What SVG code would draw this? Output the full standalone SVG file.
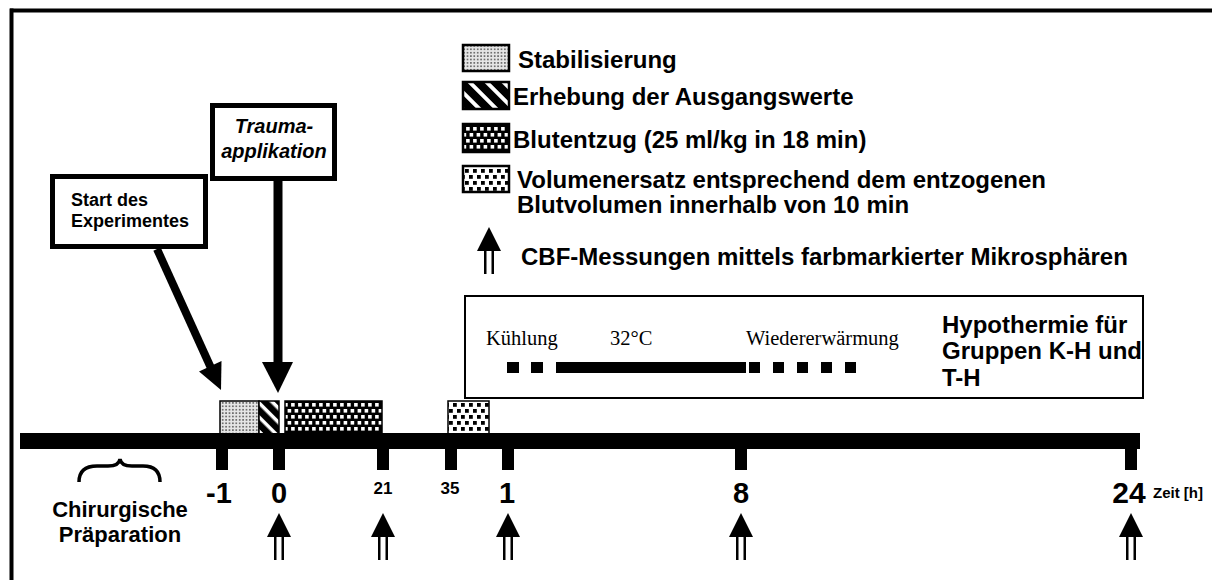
<svg xmlns="http://www.w3.org/2000/svg" width="1212" height="580" viewBox="0 0 1212 580">
<defs>
<pattern id="pStab" width="3.4" height="3.4" patternUnits="userSpaceOnUse">
<rect width="3.4" height="3.4" fill="#e6e6e6"/>
<circle cx="1.7" cy="1.7" r="0.95" fill="#555"/>
</pattern>
<pattern id="pStripe" width="10" height="10" patternUnits="userSpaceOnUse" patternTransform="rotate(-45)">
<rect width="10" height="10" fill="#fff"/>
<rect width="6.5" height="10" fill="#000"/>
</pattern>
<pattern id="pStripeL" width="12" height="12" patternUnits="userSpaceOnUse" patternTransform="rotate(-45)">
<rect width="12" height="12" fill="#fff"/>
<rect width="8" height="12" fill="#000"/>
</pattern>
<pattern id="pBlut" width="7" height="12" patternUnits="userSpaceOnUse">
<rect width="7" height="12" fill="#000"/>
<rect x="0.6" y="1" width="3.6" height="3.6" fill="#fff"/>
<rect x="4.1" y="7" width="3.6" height="3.6" fill="#fff"/>
<rect x="-2.9" y="7" width="3.6" height="3.6" fill="#fff"/>
</pattern>
<pattern id="pVol" width="8" height="12" patternUnits="userSpaceOnUse">
<rect width="8" height="12" fill="#fff"/>
<rect x="1" y="1" width="3.8" height="3.8" fill="#000"/>
<rect x="5" y="7" width="3.8" height="3.8" fill="#000"/>
<rect x="-3" y="7" width="3.8" height="3.8" fill="#000"/>
</pattern>
<g id="cbf">
<polygon points="0,0 12,24 -12,24" fill="#000"/>
<rect x="-5" y="24" width="2.5" height="23" fill="#000"/>
<rect x="2.5" y="24" width="2.5" height="23" fill="#000"/>
</g>
</defs>
<style>
.b{font-family:"Liberation Sans",Arial,sans-serif;font-weight:bold;fill:#000}
.s{font-family:"Liberation Serif","Times New Roman",serif;fill:#000}
.box{fill:#fff;stroke:#000;stroke-width:5}
.sw{stroke:#000;stroke-width:2.5}
.blk{stroke:#000;stroke-width:1.5}
</style>
<rect width="1212" height="580" fill="#fff"/>
<!-- frame -->
<g id="frame">
<rect x="10" y="8.5" width="1202" height="4" fill="#000"/>
<rect x="9.5" y="8.5" width="4" height="572" fill="#000"/>
</g>
<!-- legend -->
<g id="legend">
<rect class="sw" x="463" y="45" width="46" height="26" fill="url(#pStab)"/>
<text class="b" x="518" y="68" font-size="24">Stabilisierung</text>
<rect class="sw" x="463" y="82" width="46" height="27" fill="url(#pStripeL)"/>
<text class="b" x="513" y="105" font-size="24">Erhebung der Ausgangswerte</text>
<rect class="sw" x="463" y="124" width="46" height="28" fill="url(#pBlut)"/>
<text class="b" x="513" y="148" font-size="24">Blutentzug (25 ml/kg in 18 min)</text>
<rect class="sw" x="463" y="166" width="46" height="26" fill="url(#pVol)"/>
<text class="b" x="517" y="188" font-size="24">Volumenersatz entsprechend dem entzogenen</text>
<text class="b" x="517" y="213" font-size="24">Blutvolumen innerhalb von 10 min</text>
<use href="#cbf" x="489" y="227"/>
<text class="b" x="521" y="265" font-size="24">CBF-Messungen mittels farbmarkierter Mikrosphären</text>
</g>
<!-- hypothermia -->
<g id="hypothermie">
<rect x="465" y="296" width="678" height="102" fill="#fff" stroke="#000" stroke-width="2"/>
<text class="s" x="486" y="345" font-size="20.5">Kühlung</text>
<text class="s" x="610" y="345" font-size="20.5">32°C</text>
<text class="s" x="746" y="345" font-size="20.5">Wiedererwärmung</text>
<g fill="#000">
<rect x="507" y="362" width="12" height="11"/>
<rect x="531" y="362" width="12" height="11"/>
<rect x="556" y="362" width="190" height="11"/>
<rect x="749" y="362" width="11" height="11"/>
<rect x="773" y="362" width="11" height="11"/>
<rect x="797" y="362" width="11" height="11"/>
<rect x="821" y="362" width="11" height="11"/>
<rect x="845" y="362" width="11" height="11"/>
</g>
<text class="b" x="942" y="333" font-size="24">Hypothermie für</text>
<text class="b" x="942" y="359" font-size="24">Gruppen K-H und</text>
<text class="b" x="942" y="386" font-size="24">T-H</text>
<rect x="1142" y="296" width="2" height="102" fill="#000"/>
</g>
<!-- start box -->
<g id="start">
<rect class="box" x="52.5" y="176.5" width="153" height="70"/>
<text class="b" x="71" y="206" font-size="18">Start des</text>
<text class="b" x="71" y="227" font-size="18">Experimentes</text>
</g>
<!-- trauma box -->
<g id="trauma">
<rect class="box" x="212.5" y="105.5" width="122" height="73"/>
<text class="b" x="274" y="133" font-size="20" font-style="italic" text-anchor="middle">Trauma-</text>
<text class="b" x="274" y="158" font-size="20" font-style="italic" text-anchor="middle">applikation</text>
</g>
<!-- connectors -->
<g id="connectors">
<line x1="157" y1="249" x2="211" y2="368" stroke="#000" stroke-width="8"/>
<polygon points="221,390 221.5,361 199,371.5" fill="#000"/>
<rect x="273.5" y="181" width="9" height="183" fill="#000"/>
<polygon points="262,362 293,362 278,393" fill="#000"/>
</g>
<!-- timeline blocks -->
<g id="blocks">
<rect class="blk" x="220" y="401" width="39" height="33" fill="url(#pStab)"/>
<rect class="blk" x="259" y="401" width="20" height="33" fill="url(#pStripe)"/>
<rect class="blk" x="285" y="401" width="97" height="33" fill="url(#pBlut)"/>
<rect class="blk" x="448" y="401" width="41" height="33" fill="url(#pVol)"/>
</g>
<!-- timeline -->
<g id="timeline" fill="#000">
<rect x="20" y="433" width="1120" height="16"/>
<rect x="216" y="448" width="12" height="22"/>
<rect x="273" y="448" width="12" height="22"/>
<rect x="377" y="448" width="12" height="22"/>
<rect x="445" y="448" width="12" height="22"/>
<rect x="502" y="448" width="12" height="22"/>
<rect x="735" y="448" width="12" height="22"/>
<rect x="1125" y="448" width="12" height="22"/>
</g>
<g id="ticklabels">
<text class="b" x="219" y="503" font-size="29" text-anchor="middle">-1</text>
<text class="b" x="279" y="503" font-size="29" text-anchor="middle">0</text>
<text class="b" x="383" y="494" font-size="17" text-anchor="middle">21</text>
<text class="b" x="450" y="494" font-size="17" text-anchor="middle">35</text>
<text class="b" x="507" y="503" font-size="29" text-anchor="middle">1</text>
<text class="b" x="741" y="503" font-size="29" text-anchor="middle">8</text>
<text class="b" x="1129" y="503" font-size="30" text-anchor="middle">24</text>
<text class="b" x="1153" y="498" font-size="15">Zeit [h]</text>
</g>
<!-- surgical prep -->
<g id="praeparation">
<path d="M79,482 Q79,466 97,466 L108,466 Q119,466 120,459 Q121,466 132,466 L143,466 Q160,466 160,482" fill="none" stroke="#000" stroke-width="3.5"/>
<text class="b" x="120" y="517" font-size="22" text-anchor="middle">Chirurgische</text>
<text class="b" x="120" y="542" font-size="22" text-anchor="middle">Präparation</text>
</g>
<!-- CBF arrows -->
<g id="cbf-arrows">
<use href="#cbf" x="279" y="513"/>
<use href="#cbf" x="383" y="513"/>
<use href="#cbf" x="508" y="513"/>
<use href="#cbf" x="741" y="513"/>
<use href="#cbf" x="1131" y="513"/>
</g>
</svg>
